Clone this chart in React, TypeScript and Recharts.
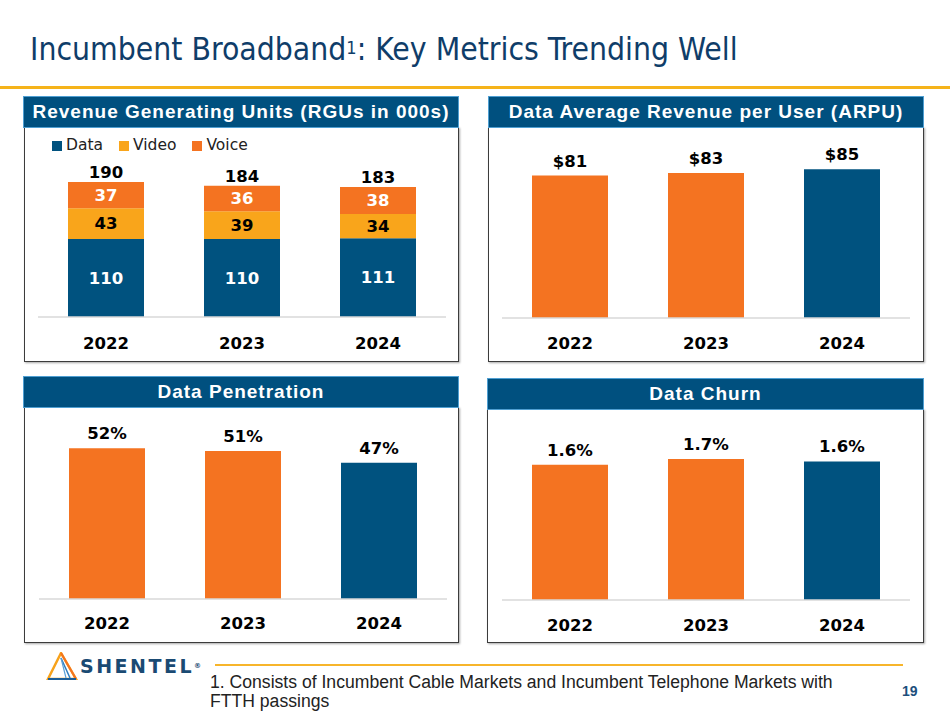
import React from 'react';
import { BarChart, Bar, XAxis, YAxis, Legend, LabelList, Cell } from 'recharts';

// ---------- data ----------
const years = ['2022', '2023', '2024'];
const rguDataSeries = [110, 110, 111];
const rguVideoSeries = [43, 39, 34];
const rguVoiceSeries = [37, 36, 38];
const rguTotals = [190, 184, 183];
const arpuValues = [81.4, 82.8, 85.0];
const penetrationValues = [52, 51, 47];
const churnValues = [1.6, 1.67, 1.64];
const singleBarColors = ['#F47321', '#F47321', '#00527F'];

const BLUE = '#00527F';
const GOLD = '#F9A51B';
const ORANGE = '#F47321';
const HEADER_BG = '#00507F';

const rguRows = years.map((y, i) => ({
  year: y,
  data: rguDataSeries[i],
  video: rguVideoSeries[i],
  voice: rguVoiceSeries[i],
  total: rguTotals[i],
}));
const arpuRows = years.map((y, i) => ({ year: y, value: arpuValues[i] }));
const penRows = years.map((y, i) => ({ year: y, value: penetrationValues[i] }));
const churnRows = years.map((y, i) => ({ year: y, value: churnValues[i] }));

const labelFont = { fontFamily: 'DejaVu Sans', fontWeight: 'bold' as const, fontSize: 16.5 };
const tickStyle = { fill: '#000', fontFamily: 'DejaVu Sans', fontWeight: 'bold', fontSize: 16.5 };

function Header({ left, top, width, height, text }: any) {
  return (
    <div
      style={{
        position: 'absolute',
        left,
        top,
        width,
        height,
        boxSizing: 'border-box',
        background: HEADER_BG,
        border: '1px solid #4F9FD2',
        color: '#fff',
        fontFamily: '"Liberation Sans", Arial, sans-serif',
        fontWeight: 'bold',
        fontSize: 19,
        letterSpacing: 1,
        lineHeight: `${height - 2}px`,
        textAlign: 'center',
        whiteSpace: 'nowrap',
        zIndex: 3,
      }}
    >
      {text}
    </div>
  );
}

function Box({ left, top, width, height }: any) {
  return (
    <div
      style={{
        position: 'absolute',
        left,
        top,
        width,
        height,
        boxSizing: 'border-box',
        border: '1.5px solid #3c3c3c',
        boxShadow: '1px 1px 2px rgba(0,0,0,0.35)',
        background: '#fff',
        zIndex: 1,
      }}
    />
  );
}

function SingleBarChart({ rows, domain, margin, width, height, xHeight, tickMargin, fmt }: any) {
  return (
    <BarChart width={width} height={height} data={rows} margin={margin} barSize={76}>
      <YAxis hide domain={domain} />
      <XAxis
        dataKey="year"
        axisLine={{ stroke: '#D9D9D9', strokeWidth: 1.5 }}
        tickLine={false}
        tickSize={0}
        tickMargin={tickMargin}
        height={xHeight}
        tick={tickStyle}
        interval={0}
      />
      <Bar dataKey="value" isAnimationActive={false}>
        {rows.map((_: any, i: number) => (
          <Cell key={i} fill={singleBarColors[i]} />
        ))}
        <LabelList
          dataKey="value"
          position="top"
          offset={9}
          formatter={fmt}
          style={{ ...labelFont, fill: '#000' }}
        />
      </Bar>
    </BarChart>
  );
}

export default function App() {
  return (
    <div
      style={{
        position: 'absolute',
        left: 0,
        top: 0,
        width: 950,
        height: 713,
        background: '#fff',
        overflow: 'hidden',
      }}
    >
      {/* title */}
      <div
        style={{
          position: 'absolute',
          left: 30,
          top: 34,
          fontFamily: '"DejaVu Sans Condensed", "DejaVu Sans", sans-serif',
          fontSize: 31.6,
          lineHeight: '31px',
          color: '#0F3D69',
          whiteSpace: 'nowrap',
        }}
      >
        Incumbent Broadband
        <span style={{ fontSize: 18, verticalAlign: 'top', position: 'relative', top: -2 }}>1</span>: Key Metrics
        Trending Well
      </div>
      <div style={{ position: 'absolute', left: 0, top: 86, width: 950, height: 3, background: '#F5B31A' }} />

      {/* top-left: RGUs */}
      <Box left={24} top={127} width={435} height={235} />
      <Header left={23} top={96} width={436} height={32} text="Revenue Generating Units (RGUs in 000s)" />
      <div style={{ position: 'absolute', left: 24, top: 128, zIndex: 2 }}>
        <BarChart
          width={435}
          height={233}
          data={rguRows}
          margin={{ top: 47, right: 13, left: 14, bottom: 0 }}
          barSize={76}
        >
          <YAxis hide domain={[0, 200]} />
          <XAxis
            dataKey="year"
            axisLine={{ stroke: '#D9D9D9', strokeWidth: 1.5 }}
            tickLine={false}
            tickSize={0}
            tickMargin={20}
            height={44}
            tick={tickStyle}
            interval={0}
          />
          <Legend
            verticalAlign="middle"
            align="center"
            layout="horizontal"
            iconType="square"
            iconSize={10}
            wrapperStyle={{
              top: 8,
              left: 28,
              width: 'auto',
              fontFamily: '"DejaVu Sans", sans-serif',
              fontSize: 15.5,
            }}
            formatter={(value: any) => (
              <span style={{ color: '#222', marginRight: 6 }}>{value}</span>
            )}
          />
          <Bar dataKey="data" name="Data" stackId="a" fill={BLUE} isAnimationActive={false}>
            <LabelList dataKey="data" position="center" style={{ ...labelFont, fill: '#fff' }} />
          </Bar>
          <Bar dataKey="video" name="Video" stackId="a" fill={GOLD} isAnimationActive={false}>
            <LabelList dataKey="video" position="center" style={{ ...labelFont, fill: '#000' }} />
          </Bar>
          <Bar dataKey="voice" name="Voice" stackId="a" fill={ORANGE} isAnimationActive={false}>
            <LabelList dataKey="voice" position="center" style={{ ...labelFont, fill: '#fff' }} />
            <LabelList dataKey="total" position="top" offset={4} style={{ ...labelFont, fill: '#000' }} />
          </Bar>
        </BarChart>
      </div>

      {/* top-right: ARPU */}
      <Box left={488} top={127} width={436} height={235} />
      <Header left={488} top={96} width={436} height={32} text="Data Average Revenue per User (ARPU)" />
      <div style={{ position: 'absolute', left: 488, top: 127, zIndex: 2 }}>
        <SingleBarChart
          rows={arpuRows}
          domain={[0, 100]}
          width={436}
          height={234}
          margin={{ top: 16, right: 14, left: 14, bottom: 0 }}
          xHeight={43}
          tickMargin={19.5}
          fmt={(v: any) => `$${Number(v).toFixed(0)}`}
        />
      </div>

      {/* bottom-left: Penetration */}
      <Box left={24} top={407} width={435} height={236} />
      <Header left={23} top={376} width={436} height={32} text="Data Penetration" />
      <div style={{ position: 'absolute', left: 24, top: 408, zIndex: 2 }}>
        <SingleBarChart
          rows={penRows}
          domain={[0, 60]}
          width={435}
          height={235}
          margin={{ top: 17, right: 12, left: 15, bottom: 0 }}
          xHeight={44}
          tickMargin={18.5}
          fmt={(v: any) => `${v}%`}
        />
      </div>

      {/* bottom-right: Churn */}
      <Box left={487} top={409} width={437} height={234} />
      <Header left={487} top={378} width={437} height={32} text="Data Churn" />
      <div style={{ position: 'absolute', left: 487, top: 410, zIndex: 2 }}>
        <SingleBarChart
          rows={churnRows}
          domain={[0, 2]}
          width={437}
          height={233}
          margin={{ top: 21, right: 14, left: 15, bottom: 0 }}
          xHeight={43}
          tickMargin={19.5}
          fmt={(v: any) => `${Number(v).toFixed(1)}%`}
        />
      </div>

      {/* footer */}
      <svg style={{ position: 'absolute', left: 46, top: 652 }} width={32} height={28} viewBox="0 0 32 28">
        <polygon points="15,1 2,27 30,27" fill="none" stroke="#F7A21B" strokeWidth={2.5} />
        <line x1={15} y1={1} x2={30} y2={27} stroke="#F47321" strokeWidth={2} />
        <line x1={15} y1={6} x2={24} y2={26} stroke="#2E7DBF" strokeWidth={1.5} />
        <line x1={15} y1={6} x2={20} y2={26} stroke="#5AA0D8" strokeWidth={1.2} />
        <line x1={2} y1={27} x2={30} y2={27} stroke="#1B5E9A" strokeWidth={2} />
      </svg>
      <div
        style={{
          position: 'absolute',
          left: 80,
          top: 655,
          fontFamily: '"DejaVu Sans", sans-serif',
          fontWeight: 'bold',
          fontSize: 19,
          letterSpacing: 2.5,
          lineHeight: '22px',
          color: '#1A4A73',
        }}
      >
        SHENTEL
        <span style={{ fontSize: 7, verticalAlign: 'top', letterSpacing: 0 }}>®</span>
      </div>
      <div style={{ position: 'absolute', left: 215, top: 664, width: 688, height: 2, background: '#F7B52B' }} />
      <div
        style={{
          position: 'absolute',
          left: 210,
          top: 673,
          fontFamily: '"Liberation Sans", Arial, sans-serif',
          fontSize: 17.6,
          lineHeight: '19px',
          color: '#222',
          whiteSpace: 'nowrap',
        }}
      >
        1. Consists of Incumbent Cable Markets and Incumbent Telephone Markets with
        <br />
        FTTH passings
      </div>
      <div
        style={{
          position: 'absolute',
          left: 902,
          top: 683,
          fontFamily: '"Liberation Sans", Arial, sans-serif',
          fontWeight: 'bold',
          fontSize: 14,
          lineHeight: '16px',
          color: '#1C4F7C',
        }}
      >
        19
      </div>
    </div>
  );
}
